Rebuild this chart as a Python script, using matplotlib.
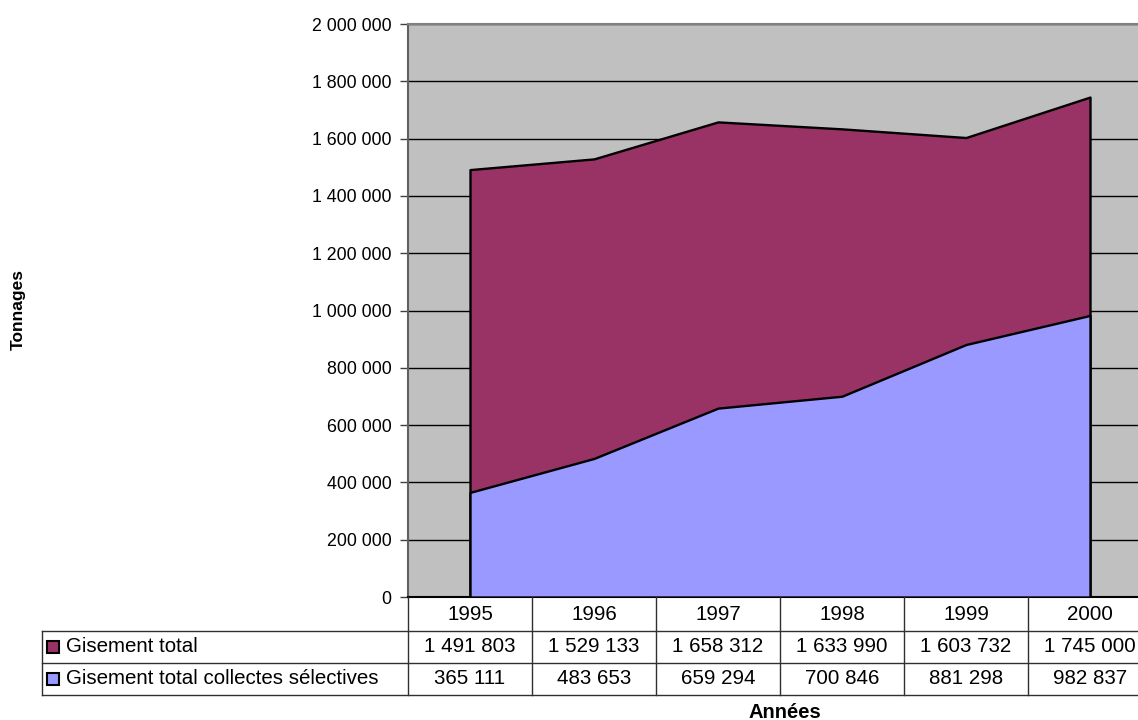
import matplotlib
matplotlib.use("Agg")
import matplotlib.pyplot as plt
from matplotlib.patches import Rectangle
from matplotlib.lines import Line2D

# Data
years = ["1995", "1996", "1997", "1998", "1999", "2000"]
gisement_total = [1491803, 1529133, 1658312, 1633990, 1603732, 1745000]
collectes_selectives = [365111, 483653, 659294, 700846, 881298, 982837]
series_names = ["Gisement total", "Gisement total collectes sélectives"]
y_ticks = [0, 200000, 400000, 600000, 800000, 1000000, 1200000,
           1400000, 1600000, 1800000, 2000000]

PURPLE = "#993366"
BLUE = "#9999FF"
GRAY = "#C0C0C0"

W, H = 1138, 720
plt.rcParams["font.family"] = ["Liberation Sans", "DejaVu Sans"]
FS_TICK = 12.8
FS_TAB = 14.8

fig = plt.figure(figsize=(W / 100, H / 100), dpi=100)

# Plot area in pixels (extends past the right edge of the figure)
px_left, px_top, px_bottom = 408, 24, 597
col_w = 124
n = len(years)
px_right = px_left + col_w * n
ax = fig.add_axes([px_left / W, 1 - px_bottom / H,
                   (px_right - px_left) / W, (px_bottom - px_top) / H])
ax.set_facecolor(GRAY)

x = list(range(n))
ax.set_xlim(-0.5, n - 0.5)
ax.set_ylim(0, 2000000)

ax.fill_between(x, gisement_total, 0, facecolor=PURPLE, edgecolor="black",
                linewidth=1.7, zorder=2)
ax.fill_between(x, collectes_selectives, 0, facecolor=BLUE, edgecolor="black",
                linewidth=1.7, zorder=3)


def fmt(v):
    return f"{v:,}".replace(",", " ")


ax.set_yticks(y_ticks)
ax.set_yticklabels([fmt(v) for v in y_ticks], fontsize=FS_TICK)
ax.yaxis.grid(True, color="black", linewidth=1.0, zorder=1)
ax.set_axisbelow(True)
ax.tick_params(axis="y", direction="out", length=6, width=1, color="#404040",
               pad=6)
ax.tick_params(axis="x", bottom=False, labelbottom=False)
ax.spines["right"].set_visible(False)
ax.spines["top"].set_color("#808080")
ax.spines["top"].set_linewidth(1.5)
ax.spines["left"].set_color("#606060")
ax.spines["left"].set_linewidth(1.5)
ax.spines["bottom"].set_color("black")
ax.spines["bottom"].set_linewidth(1.5)


# Data table beneath the chart (pixel coordinates -> figure fraction)
def fx(px):
    return px / W


def fy(py):
    return 1 - py / H


tab_left = 42
lc = "#303030"
for ry in (631, 663, 695):
    fig.add_artist(Line2D([fx(tab_left), fx(W)], [fy(ry), fy(ry)],
                          color=lc, lw=1.0))
fig.add_artist(Line2D([fx(tab_left), fx(tab_left)], [fy(631), fy(695)],
                      color=lc, lw=1.0))
for i in range(n):
    xb = px_left + i * col_w
    fig.add_artist(Line2D([fx(xb), fx(xb)], [fy(597), fy(695)],
                          color=lc, lw=1.0))

for i, yr in enumerate(years):
    xc = px_left + col_w * (i + 0.5)
    fig.text(fx(xc), fy(614), yr, ha="center", va="center", fontsize=FS_TAB)
    fig.text(fx(xc), fy(647), fmt(gisement_total[i]), ha="center",
             va="center", fontsize=FS_TAB)
    fig.text(fx(xc), fy(679), fmt(collectes_selectives[i]), ha="center",
             va="center", fontsize=FS_TAB)

# Legend keys in the table
for ry, col, name in [(647, PURPLE, series_names[0]),
                      (679, BLUE, series_names[1])]:
    fig.add_artist(Rectangle((fx(47), fy(ry + 6)), 12 / W, 12 / H,
                             facecolor=col, edgecolor="black", lw=1.5))
    fig.text(fx(66), fy(ry), name, ha="left", va="center", fontsize=FS_TAB)

fig.text(fx(785), fy(712), "Années", ha="center", va="center",
         fontsize=14.5, fontweight="bold")
fig.text(fx(18), fy(310), "Tonnages", ha="center", va="center",
         fontsize=12.5, fontweight="bold", rotation=90)

fig.savefig("out.png", dpi=100)
